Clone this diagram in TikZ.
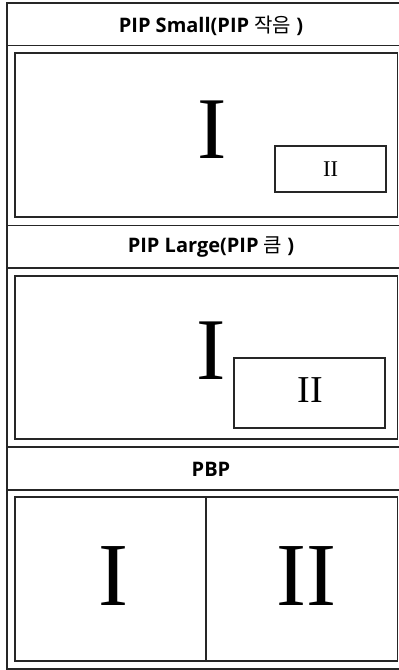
\documentclass[tikz,border=0pt]{standalone}
\usepackage{fontspec}
\setmainfont{Liberation Serif}
\newfontfamily\hdfont{Open Sans}
\newfontfamily\krfont{Noto Sans CJK KR}
\begin{document}
\begin{tikzpicture}[x=1pt,y=-1pt,
  frame/.style={draw=black!85,line width=1.8pt},
  box/.style={draw=black!85,line width=1.5pt},
  hdr/.style={font=\hdfont\bfseries\fontsize{20}{22}\selectfont,inner sep=0pt},
  bigI/.style={font=\fontsize{88}{90}\selectfont,inner sep=0pt},
  pbpI/.style={font=\fontsize{90}{92}\selectfont,inner sep=0pt}]
\useasboundingbox (0,0) rectangle (399,670);
% outer frame and header separators
\draw[frame] (7,3) rectangle (418,669);
\draw[frame] (7,45.5) -- (418,45.5);
\draw[frame] (7,225.5) -- (418,225.5);
\draw[frame] (7,268) -- (418,268);
\draw[frame] (7,447) -- (418,447);
\draw[frame] (7,490) -- (418,490);
% headers
\node[hdr] (h1) at (211,25.5) {PIP Small(PIP {\krfont\mdseries 작음} )};
\node[hdr] (h2) at (211,247) {PIP Large(PIP {\krfont\mdseries 큼} )};
\node[hdr] (h3) at (211,469) {PBP};
% PIP small
\draw[box] (15,53) rectangle (397.5,217);
\node[bigI] (s1) at (212,130) {I};
\draw[box] (275,146) rectangle (386,192);
\node[font=\fontsize{22.5}{24}\selectfont,inner sep=0pt] (s2) at (330.5,169.5) {II};
% PIP large
\draw[box] (15,276) rectangle (397.5,439);
\node[bigI] (l1) at (211,351) {I};
\draw[box] (234,358) rectangle (385,428);
\node[font=\fontsize{38}{40}\selectfont,inner sep=0pt] (l2) at (310.5,390.5) {II};
% PBP
\draw[box] (15,497) rectangle (397.5,661);
\draw[box] (206,497) -- (206,661);
\node[pbpI] (p1) at (113,576) {I};
\node[pbpI] (p2) at (306,576) {II};
\end{tikzpicture}
\end{document}
